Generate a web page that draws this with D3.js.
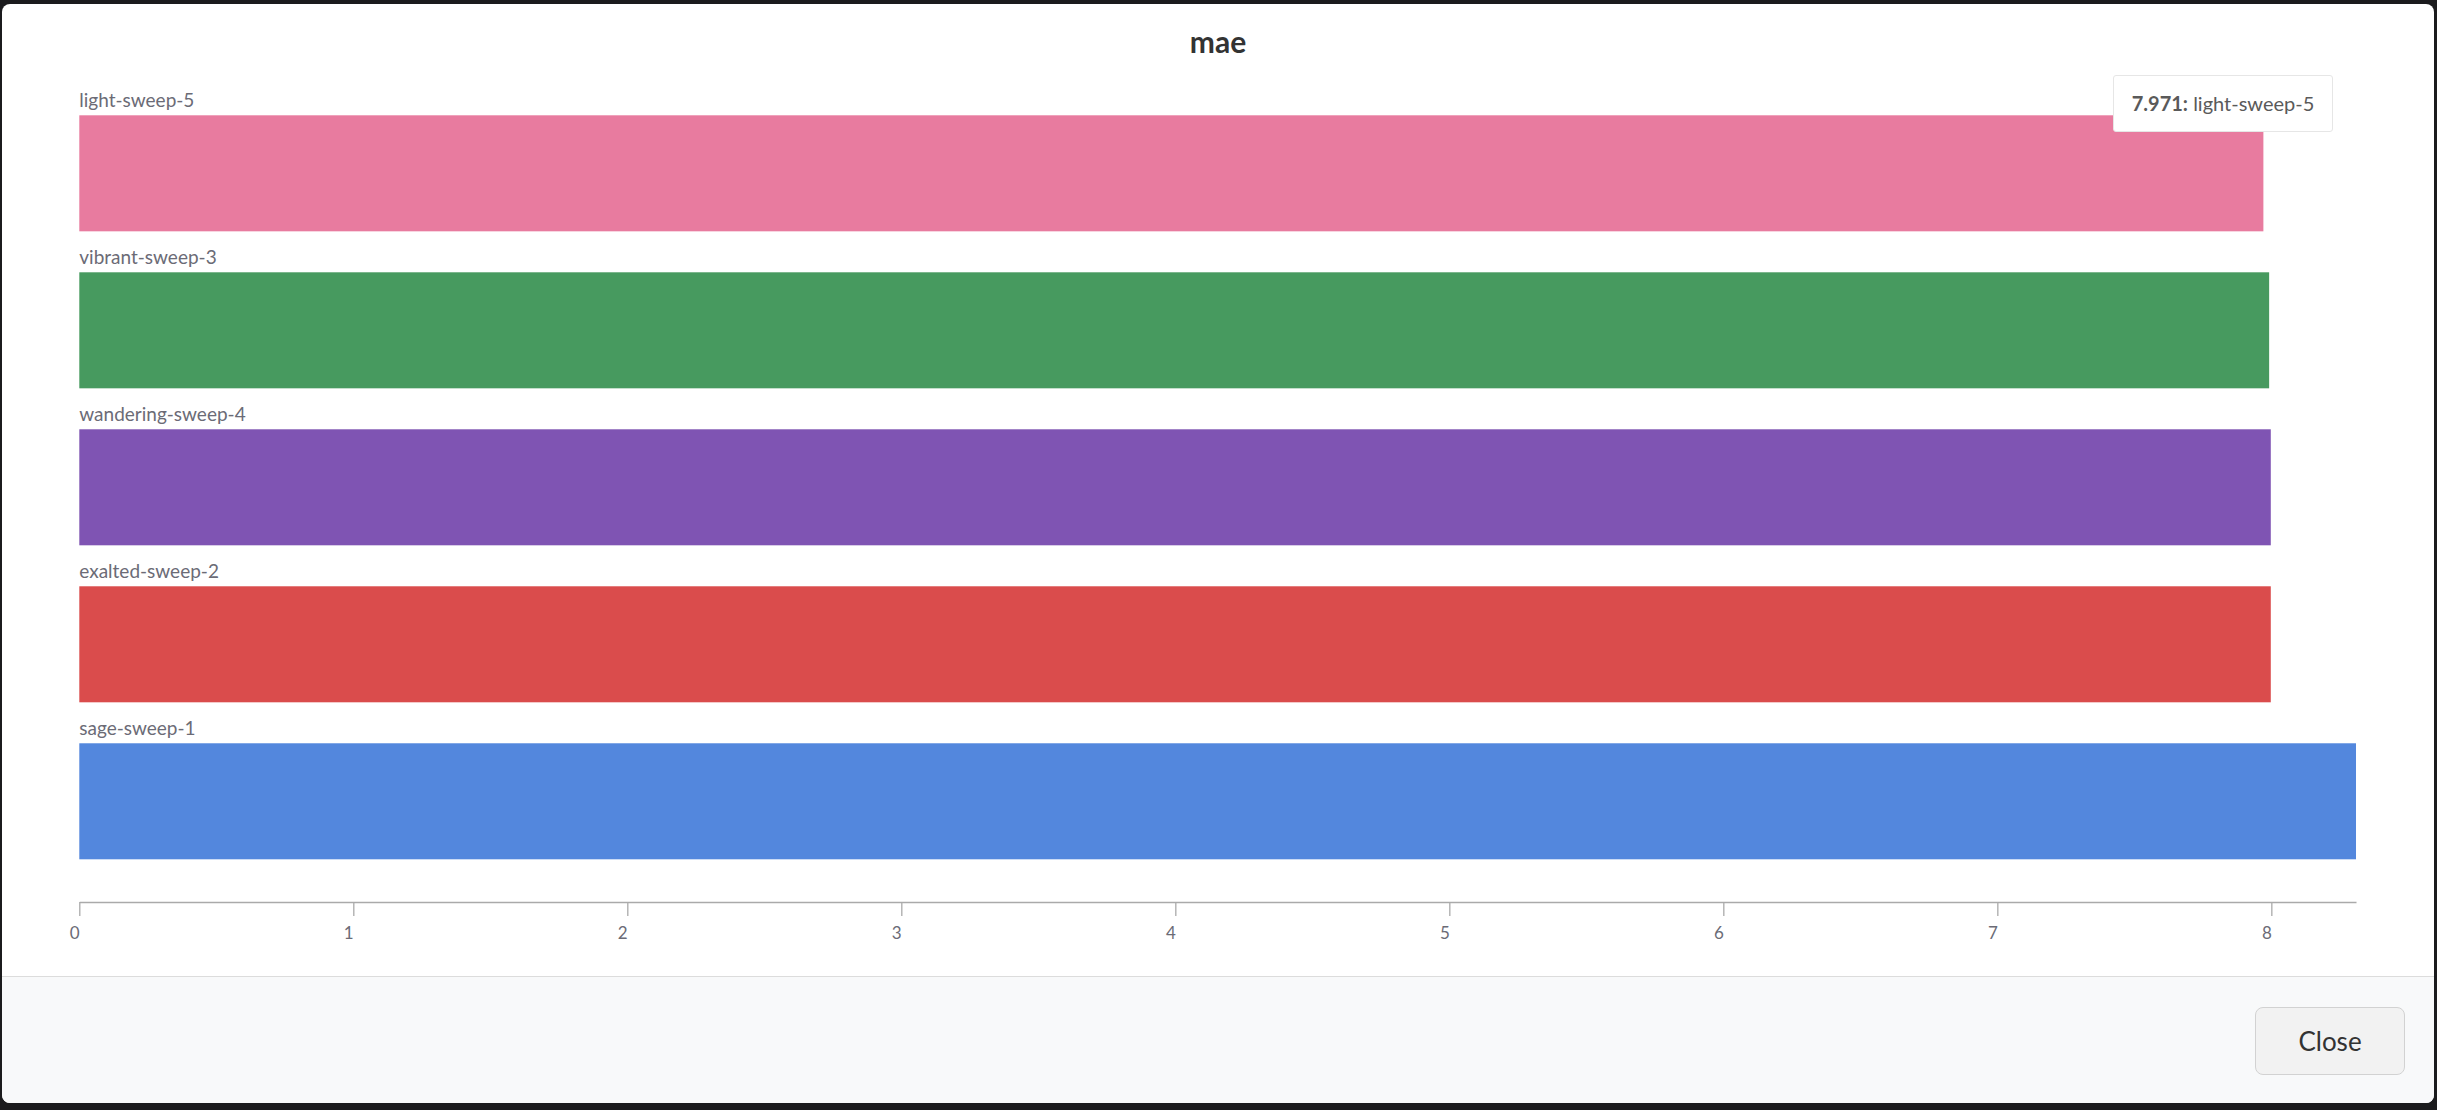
<!DOCTYPE html>
<html>
<head>
<meta charset="utf-8">
<script src="https://cdn.jsdelivr.net/npm/d3@7"></script>
<style>
    body {
        margin: 0;
        width: 2437px;
        height: 1110px;
        background: #1b1b1d;
        overflow: hidden;
        font-family: "Lato", "Noto Sans", sans-serif;
    }
    #modal {
        position: absolute;
        left: 2px;
        top: 4px;
        width: 2432px;
        height: 1099px;
        background: #fff;
        border-radius: 8px;
        overflow: hidden;
    }
    #footer {
        position: absolute;
        left: 0;
        top: 972px;
        width: 100%;
        height: 127px;
        background: #f8f9fa;
        border-top: 1px solid #dcdcdc;
    }
    #close_btn {
        position: absolute;
        left: 2253px;
        top: 30px;
        width: 148px;
        height: 66px;
        background: #f2f2f2;
        border: 1px solid #d2d2d2;
        border-radius: 8px;
        color: #333;
        font-size: 26px;
        line-height: 66px;
        text-align: center;
    }
    #chart {
        position: absolute;
        left: 0;
        top: 0;
    }
    #tooltip {
        position: absolute;
        left: 2113px;
        top: 75px;
        width: 218px;
        height: 55px;
        background: #fff;
        border: 1px solid #e6e6e6;
        border-radius: 3px;
        color: #5a5a5a;
        font-size: 20px;
        line-height: 55px;
        text-align: center;
    }
</style>
</head>
<body>
<div id="modal">
    <div id="footer"><div id="close_btn">Close</div></div>
</div>
<svg id="chart"></svg>
<div id="tooltip"></div>

<script>
// DATA
var runNames = ["light-sweep-5", "vibrant-sweep-3", "wandering-sweep-4", "exalted-sweep-2", "sage-sweep-1"];
var maeValues = [7.971, 7.992, 7.998, 7.998, 8.309];
var runColors = ["#e87b9f", "#479a5f", "#7f54b3", "#da4c4c", "#5387dd"];
var chartTitle = "mae";

// MAIN
var width = 2437;
var height = 1110;

var svg = d3.select("#chart")
    .attr("width", width)
    .attr("height", height);

var data = runNames.map(function (n, i) {
    return {name: n, value: maeValues[i], color: runColors[i]};
});

var x = d3.scaleLinear()
    .domain([0, d3.max(maeValues)])
    .range([79.3, 2356]);

var y = d3.scaleBand()
    .domain(runNames)
    .range([115.3, 859.3])
    .paddingInner(0.261)
    .paddingOuter(0);

// title
svg.append("text")
    .attr("x", 1218)
    .attr("y", 53)
    .attr("text-anchor", "middle")
    .attr("font-size", "30px")
    .attr("font-weight", "bold")
    .attr("fill", "#333")
    .text(chartTitle);

// bars
var bar = svg.append("g")
    .selectAll("g")
    .data(data)
    .enter().append("g");

bar.append("rect")
    .attr("x", x(0))
    .attr("y", function (d) {
        return y(d.name);
    })
    .attr("width", function (d) {
        return x(d.value) - x(0);
    })
    .attr("height", y.bandwidth())
    .attr("fill", function (d) {
        return d.color;
    });

bar.append("text")
    .attr("x", x(0))
    .attr("y", function (d) {
        return y(d.name) - 8;
    })
    .attr("font-size", "19px")
    .attr("fill", "#6b6b76")
    .text(function (d) {
        return d.name;
    });

// x axis
var axis = svg.append("g")
    .attr("transform", "translate(0,902)")
    .call(d3.axisBottom(x).ticks(10).tickSize(14).tickSizeOuter(0).tickPadding(11));

axis.select(".domain").attr("stroke", "#aaa").attr("stroke-width", 1.3);
axis.selectAll(".tick line").attr("stroke", "#aaa").attr("stroke-width", 1.3);
axis.selectAll(".tick text")
    .attr("font-size", "17px")
    .attr("font-family", "Lato, 'Noto Sans', sans-serif")
    .attr("fill", "#6b6b76")
    .attr("dx", -5);

// tooltip for the first run
d3.select("#tooltip").html("<b>" + maeValues[0] + ":</b> " + runNames[0]);
</script>
</body>
</html>
